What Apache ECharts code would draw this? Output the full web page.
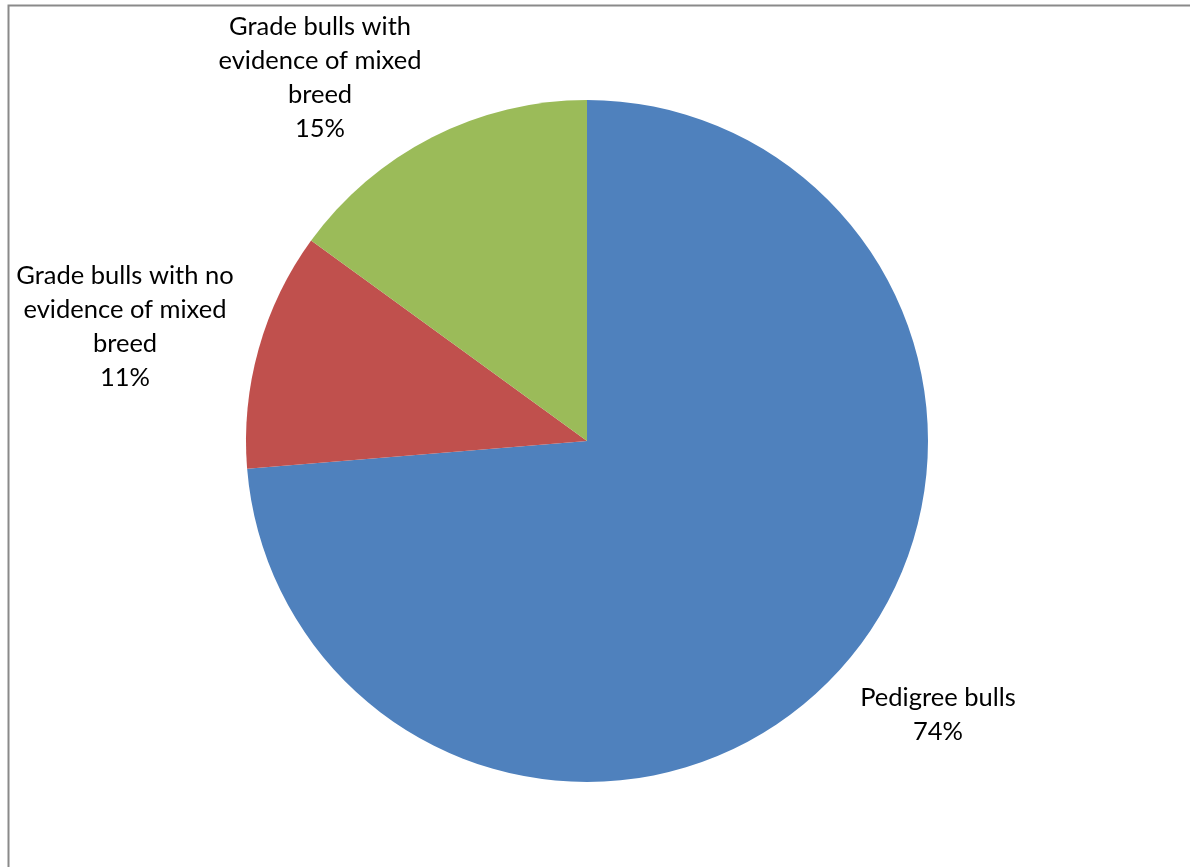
<!DOCTYPE html>
<html>
<head>
<meta charset="utf-8">
<script src="https://cdn.jsdelivr.net/npm/echarts@6/dist/echarts.min.js"></script>
<style>html,body{margin:0;padding:0;background:#fff;}#c{width:1190px;height:867px;}</style>
</head>
<body>
<div id="c"></div>
<script>
const categories = ['Pedigree bulls', 'Grade bulls with no\nevidence of mixed\nbreed', 'Grade bulls with\nevidence of mixed\nbreed'];
const values = [73.7, 11.3, 15.0];
const colors = ['#4F81BD', '#C0504D', '#9BBB59'];
const labelPos = [[938, 715], [125, 327], [320, 78]];

const chart = echarts.init(document.getElementById('c'));
chart.setOption({
  animation: false,
  backgroundColor: '#fff',
  graphic: [{
    type: 'rect', shape: { x: 8.5, y: 5.5, width: 1300, height: 1000 },
    style: { fill: 'none', stroke: '#8a8a8a', lineWidth: 2 }, silent: true
  }],
  series: [{
    type: 'pie',
    center: [587, 441],
    radius: 341,
    startAngle: 90,
    clockwise: true,
    data: categories.map((n, i) => ({ name: n, value: values[i], itemStyle: { color: colors[i] } })),
    itemStyle: { borderWidth: 0 },
    label: {
      show: true,
      position: 'outside',
      overflow: 'none',
      formatter: p => p.name + '\n' + Math.round(p.percent) + '%',
      fontFamily: 'Lato, "Open Sans", sans-serif',
      fontSize: 25.5,
      lineHeight: 34,
      color: '#000',
      align: 'center'
    },
    labelLine: { show: false },
    labelLayout: p => ({ x: labelPos[p.dataIndex][0], y: labelPos[p.dataIndex][1], align: 'center', verticalAlign: 'middle' })
  }]
});
</script>
</body>
</html>
